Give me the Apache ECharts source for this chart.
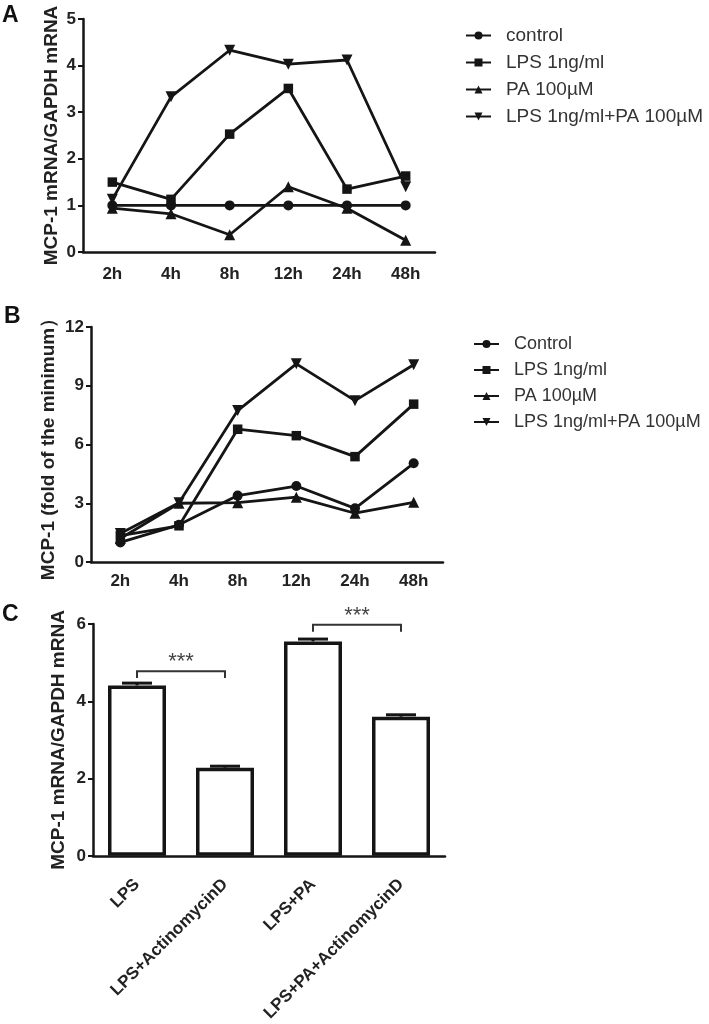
<!DOCTYPE html>
<html><head><meta charset="utf-8">
<script src="https://cdn.jsdelivr.net/npm/echarts@6/dist/echarts.min.js"></script>
<style>html,body{margin:0;padding:0;background:#fff}#c{width:709px;height:1024px}</style>
</head><body><div id="c"></div>
<script>
// ---------- data ----------
const timeLabels = ['2h', '4h', '8h', '12h', '24h', '48h'];
const namesA = ['control', 'LPS 1ng/ml', 'PA 100µM', 'LPS 1ng/ml+PA 100µM'];
const namesB = ['Control', 'LPS 1ng/ml', 'PA 100µM', 'LPS 1ng/ml+PA 100µM'];
const aControl = [1, 1, 1, 1, 1, 1];
const aLPS = [1.50, 1.13, 2.53, 3.51, 1.35, 1.63];
const aPA = [0.94, 0.82, 0.37, 1.40, 0.94, 0.25];
const aLPSPA = [1.13, 3.33, 4.33, 4.03, 4.12, 1.40];
const bControl = [1.0, 1.9, 3.39, 3.88, 2.74, 5.04];
const bLPS = [1.35, 1.85, 6.78, 6.45, 5.38, 8.06];
const bPA = [1.2, 3.0, 3.03, 3.31, 2.49, 3.05];
const bLPSPA = [1.45, 3.03, 7.73, 10.12, 8.24, 10.07];
const cCategories = ['LPS', 'LPS+ActinomycinD', 'LPS+PA', 'LPS+PA+ActinomycinD'];
const cMeans = [4.41, 2.28, 5.55, 3.60];
const cErrors = [0.06, 0.04, 0.06, 0.05];
// [from index, to index, leg bottom, bracket top]
const cBrackets = [[0, 1, 4.60, 4.78], [2, 3, 5.80, 5.98]];
const cSigLabels = ['***', '***'];
const yTitleA = 'MCP-1 mRNA/GAPDH mRNA';
const yTitleB = 'MCP-1 (fold of the minimum）';
const yTitleC = 'MCP-1 mRNA/GAPDH mRNA';

// ---------- styling ----------
const F = '"Liberation Sans", Arial, Helvetica, sans-serif';
const INK = '#151515';
const symbols = [
  { symbol: 'circle', symbolSize: 10, symbolRotate: 0 },
  { symbol: 'rect', symbolSize: 9.5, symbolRotate: 0 },
  { symbol: 'triangle', symbolSize: 11, symbolRotate: 0 },
  { symbol: 'triangle', symbolSize: 11, symbolRotate: 180 }
];

function lineSeries(name, data, k, gi) {
  return {
    type: 'line', name, data, xAxisIndex: gi, yAxisIndex: gi,
    symbol: symbols[k].symbol, symbolSize: symbols[k].symbolSize, symbolRotate: symbols[k].symbolRotate,
    showAllSymbol: true,
    lineStyle: { color: INK, width: 2.8 },
    itemStyle: { color: INK, borderWidth: 0 },
    emphasis: { disabled: true }, animation: false, z: 3
  };
}
function yAx(gi, max, interval, name, nameGap) {
  return {
    type: 'value', gridIndex: gi, min: 0, max, interval, name,
    nameLocation: 'middle', nameRotate: 90, nameGap,
    nameTextStyle: { fontSize: 19, fontWeight: 'bold', color: '#222', fontFamily: F },
    axisLine: { show: true, lineStyle: { color: INK, width: 2.5 } },
    axisTick: { show: true, length: 5, lineStyle: { color: INK, width: 2 } },
    axisLabel: { fontSize: 17, fontWeight: 'bold', color: '#222', fontFamily: F, margin: 7 },
    splitLine: { show: false }
  };
}
function xAx(gi, data, labelExtra) {
  return {
    type: 'category', gridIndex: gi, data, boundaryGap: true,
    axisLine: { lineStyle: { color: INK, width: 2.5 } },
    axisTick: { alignWithLabel: true, length: 5, lineStyle: { color: INK, width: 2 } },
    axisLabel: Object.assign({ fontSize: 17, fontWeight: 'bold', color: '#222', fontFamily: F, margin: 13, interval: 0 }, labelExtra || {})
  };
}

const chart = echarts.init(document.getElementById('c'), null, { renderer: 'canvas' });
const option = {
  backgroundColor: '#fff',
  animation: false,
  textStyle: { fontFamily: F },
  grid: [
    { left: 83, top: 19, width: 352, height: 233 },
    { left: 91, top: 327, width: 352, height: 235 },
    { left: 93, top: 624, width: 352, height: 233 }
  ],
  xAxis: [
    xAx(0, timeLabels, { margin: 14 }),
    xAx(1, timeLabels, { margin: 11 }),
    xAx(2, cCategories, { rotate: 45, fontSize: 17, margin: 26 })
  ],
  yAxis: [
    yAx(0, 5, 1, yTitleA, 22),
    yAx(1, 12, 3, yTitleB, 33),
    yAx(2, 6, 2, yTitleC, 25)
  ],
  legend: [
    { orient: 'vertical', left: 460, top: 21, data: namesA, itemWidth: 25, itemHeight: 10, itemGap: 8,
      selectedMode: false, textStyle: { fontSize: 19, color: '#333', fontFamily: F, padding: [0, 0, 0, 10] } },
    { orient: 'vertical', left: 468, top: 330, data: namesB, itemWidth: 25, itemHeight: 10, itemGap: 8,
      selectedMode: false, textStyle: { fontSize: 18, color: '#333', fontFamily: F, padding: [0, 0, 0, 10] } }
  ],
  graphic: [
    { type: 'text', left: 2, top: 4, style: { text: 'A', font: 'bold 23px ' + F, fill: '#111' } },
    { type: 'text', left: 4, top: 305, style: { text: 'B', font: 'bold 23px ' + F, fill: '#111' } },
    { type: 'text', left: 2, top: 603, style: { text: 'C', font: 'bold 23px ' + F, fill: '#111' } }
  ],
  series: [
    lineSeries(namesA[0], aControl, 0, 0),
    lineSeries(namesA[1], aLPS, 1, 0),
    lineSeries(namesA[2], aPA, 2, 0),
    lineSeries(namesA[3], aLPSPA, 3, 0),
    lineSeries(namesB[0], bControl, 0, 1),
    lineSeries(namesB[1], bLPS, 1, 1),
    lineSeries(namesB[2], bPA, 2, 1),
    lineSeries(namesB[3], bLPSPA, 3, 1),
    {
      type: 'bar', xAxisIndex: 2, yAxisIndex: 2, data: cMeans, barWidth: 58,
      itemStyle: { color: '#fff', borderColor: INK, borderWidth: 3.5 },
      emphasis: { disabled: true }, z: 2
    },
    {
      type: 'custom', xAxisIndex: 2, yAxisIndex: 2, z: 4,
      data: cMeans.map((m, i) => [i, m, cErrors[i]]),
      encode: { x: 0, y: 1 },
      renderItem: function (params, api) {
        const x = api.value(0), m = api.value(1), e = api.value(2);
        const base = api.coord([x, m]);
        const top = api.coord([x, m + e]);
        const half = 15;
        return {
          type: 'group', children: [
            { type: 'line', shape: { x1: base[0], y1: base[1], x2: top[0], y2: top[1] }, style: { stroke: INK, lineWidth: 3 } },
            { type: 'line', shape: { x1: top[0] - half, y1: top[1], x2: top[0] + half, y2: top[1] }, style: { stroke: INK, lineWidth: 3 } }
          ]
        };
      }
    },
    {
      type: 'custom', xAxisIndex: 2, yAxisIndex: 2, z: 4,
      data: cBrackets,
      encode: { x: [0, 1], y: [2, 3] },
      renderItem: function (params, api) {
        const a = api.value(0), b = api.value(1), leg = api.value(2), tp = api.value(3);
        const l0 = api.coord([a, leg]), l1 = api.coord([a, tp]);
        const r1 = api.coord([b, tp]), r0 = api.coord([b, leg]);
        return {
          type: 'group', children: [
            { type: 'polyline', shape: { points: [l0, l1, r1, r0] }, style: { stroke: '#333', lineWidth: 2, fill: null } },
            { type: 'text', style: { text: cSigLabels[params.dataIndex], x: (l1[0] + r1[0]) / 2, y: l1[1] + 2,
              align: 'center', verticalAlign: 'bottom', font: '22px ' + F, fill: '#444' } }
          ]
        };
      }
    }
  ]
};
chart.setOption(option);
</script>
</body></html>
